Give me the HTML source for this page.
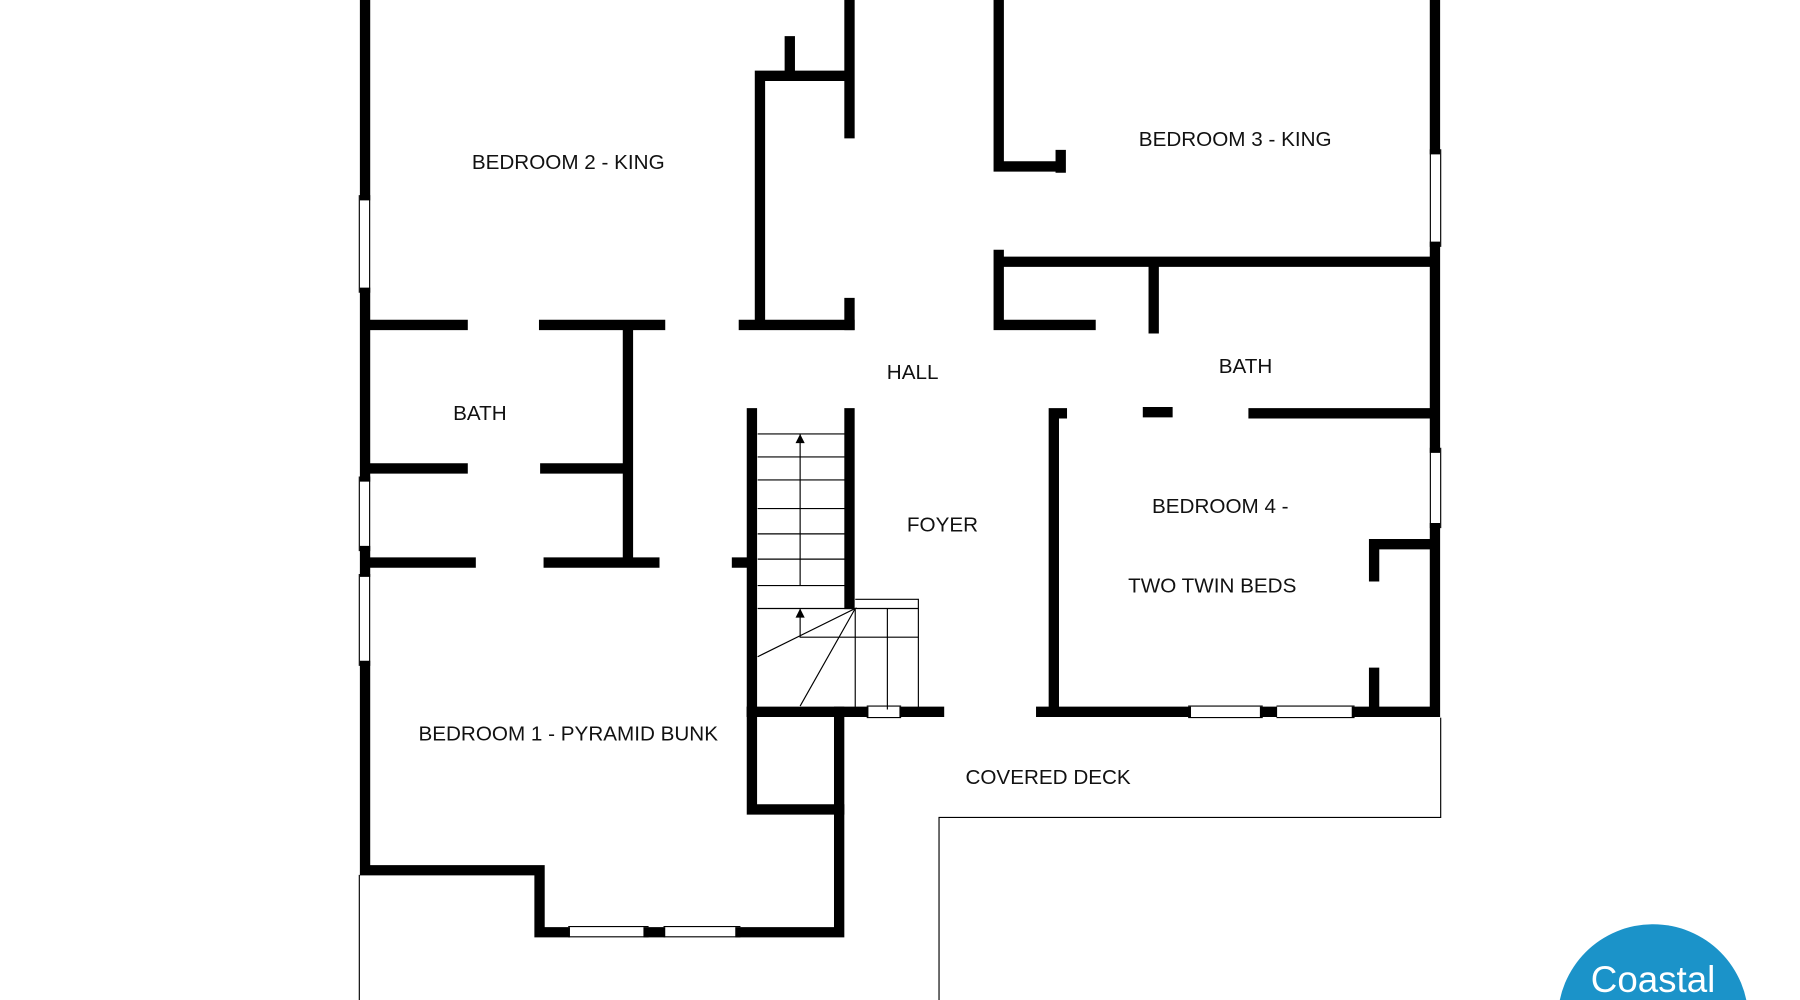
<!DOCTYPE html>
<html><head><style>html,body{margin:0;padding:0;background:#fff;overflow:hidden;width:1800px;height:1000px}svg{display:block}</style></head>
<body>
<svg width="1800" height="1000" viewBox="0 0 1568 871" preserveAspectRatio="none" xmlns="http://www.w3.org/2000/svg">
<rect width="1568" height="871" fill="#fff"/>
<g stroke="#000" stroke-width="9" stroke-linecap="square" fill="none">
<path d="M318 0V170M318 255V415M318 480V498M318 580V758H470V812H492M565 812H575M645 812H731V620"/>
<path d="M655 620V700M655 705H731"/>
<path d="M655 620H752M788 620H818M907 620H1033M1102 620H1108M1182 620H1250V460M1250 390V215M1250 130V0"/>
<path d="M740 0V116M688 36V62M662 66H740M662 66V280M740 264V283"/>
<path d="M322 283H403M474 283H575M648 283H740"/>
<path d="M547 287V488M322 408H403M475 408H543M322 490H410M478 490H570"/>
<path d="M655 360V620M740 360V526M642 490H652"/>
<path d="M870 0V145H922M924 135V146M870 222V283H950M870 228H1246M1005 232V286"/>
<path d="M918 362V618M918 360H925M1000 359H1017M1092 360H1246"/>
<path d="M1197 474H1246M1197 474V502M1197 586V614"/>
</g>
<g stroke="#000" stroke-width="1" fill="none">
<path d="M1255 625V712H818V871M313 762V871"/>
<path d="M660 378H737M660 398H737M660 418H737M660 443H737M660 465H737M660 487H737M660 510H737M660 530H800M745 522H800V618M697 378V510M697 530V555H800M745 530V618M773 530V618M660 572L745 530L697 615"/>
<path d="M313 170V255M322 170V255M313 415V480M322 415V480M313 500V580M322 500V580M1246 130V215M1255 130V215M1246 390V460M1255 390V460"/>
<path d="M495 807H565M495 816H565M578 807H645M578 816H645M1035 615H1100M1035 625H1100M1112 615H1180M1112 625H1180M755 615H785M755 625H785"/>
</g>
<path d="M693 386L697 378L701 386Z M693 538L697 530L701 538Z" fill="#000"/>
<g font-family="Liberation Sans, sans-serif" font-size="18" fill="#111" text-anchor="middle">
<text x="495" y="147">BEDROOM 2 - KING</text>
<text x="1076" y="127">BEDROOM 3 - KING</text>
<text x="795" y="330">HALL</text>
<text x="1085" y="325">BATH</text>
<text x="418" y="366">BATH</text>
<text x="821" y="463">FOYER</text>
<text x="1063" y="447">BEDROOM 4 -</text>
<text x="1056" y="516">TWO TWIN BEDS</text>
<text x="495" y="645">BEDROOM 1 - PYRAMID BUNK</text>
<text x="913" y="683">COVERED DECK</text>
</g>
<circle cx="1440" cy="888" r="83" fill="#1b93c9"/>
<text x="1440" y="864" font-family="Liberation Sans, sans-serif" font-size="32" fill="#fff" text-anchor="middle">Coastal</text>
</svg>
</body></html>
